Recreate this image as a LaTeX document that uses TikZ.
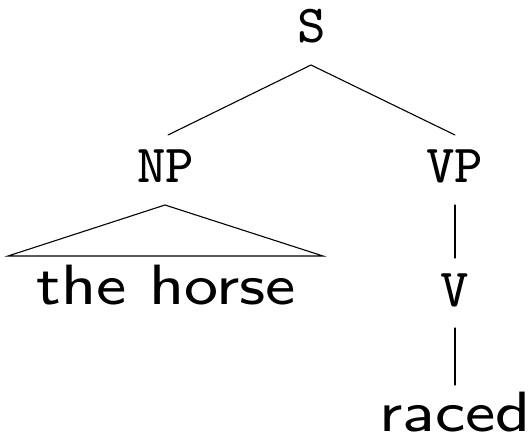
\documentclass[tikz,border=0pt]{standalone}
\usetikzlibrary{calc}
\newcommand{\catx}[1]{\scalebox{6.7}{\fontsize{8}{9}\selectfont\ttfamily #1}}
\newcommand{\wrd}[1]{\scalebox{8.0}[7.1]{\fontsize{8}{9}\selectfont\sffamily #1}}
\tikzset{
  cat/.style={inner sep=0pt},
  word/.style={inner sep=0pt, anchor=base},
  edge/.style={line width=1.1pt, line cap=round},
}
\begin{document}
\begin{tikzpicture}[x=1pt,y=-1pt]
  \useasboundingbox (0,0) rectangle (531,438);
  \node[cat, anchor=base] (S)  at (312,43)  {\catx{S}};
  \node[cat, anchor=base] (NP) at (165.5,183) {\catx{NP}};
  \node[cat, anchor=base] (VP) at (454.5,183) {\catx{VP}};
  \node[cat, anchor=base] (V)  at (455,307) {\catx{V}};
  \node[word] (the) at (166.5,305) {\wrd{the horse}};
  \node[word] (raced) at (455,432) {\wrd{raced}};
  \coordinate (Sb) at (311,65);
  \coordinate (NPt) at (168,135);
  \coordinate (VPt) at (455,135);
  \coordinate (NPb) at (165,205);
  \coordinate (TL) at (8,256);
  \coordinate (TR) at (323,256);
  \coordinate (VPb) at (455,205);
  \coordinate (Vt) at (455,258);
  \coordinate (Vb) at (455,328);
  \coordinate (Rt) at (455,385);
  \draw[edge] (NPt) -- (Sb) -- (VPt);
  \draw[edge] (NPb) -- (TL) -- (TR) -- cycle;
  \draw[edge] (VPb) -- (Vt);
  \draw[edge] (Vb) -- (Rt);
\end{tikzpicture}
\end{document}
